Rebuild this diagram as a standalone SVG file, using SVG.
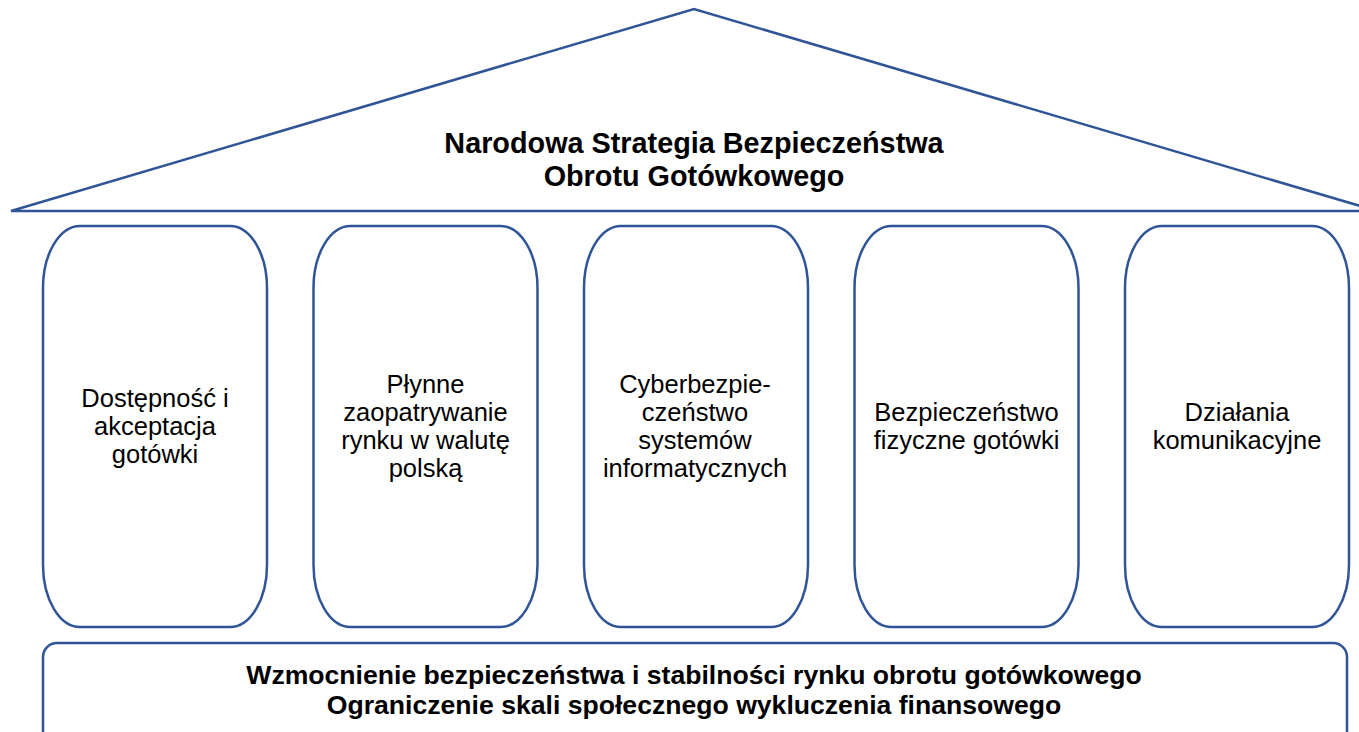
<svg xmlns="http://www.w3.org/2000/svg" width="1359" height="732" viewBox="0 0 1359 732">
<style>
.s{fill:#fff;stroke:#2F5597;stroke-width:2.5}
.t{font-family:"Liberation Sans",Arial,sans-serif;font-size:25.5px;fill:#000;text-anchor:middle}
.b{font-family:"Liberation Sans",Arial,sans-serif;font-weight:bold;fill:#000;text-anchor:middle}
.h{font-size:28.8px}
.f{font-size:26.6px}
</style>
<rect width="1359" height="732" fill="#fff"/>
<g id="roof">
<polygon class="s" points="11,211 694,9 1377,211"/>
<text class="b h" x="694" y="153">Narodowa Strategia Bezpieczeństwa</text>
<text class="b h" x="694" y="186">Obrotu Gotówkowego</text>
</g>
<g id="p1">
<rect class="s" x="43" y="226" width="224" height="401" rx="37" ry="62"/>
<text class="t" x="155" y="407">Dostępność i</text>
<text class="t" x="155" y="435">akceptacja</text>
<text class="t" x="155" y="463">gotówki</text>
</g>
<g id="p2">
<rect class="s" x="313.5" y="226" width="224" height="401" rx="37" ry="62"/>
<text class="t" x="425.5" y="393">Płynne</text>
<text class="t" x="425.5" y="421">zaopatrywanie</text>
<text class="t" x="425.5" y="449">rynku w walutę</text>
<text class="t" x="425.5" y="477">polską</text>
</g>
<g id="p3">
<rect class="s" x="584" y="226" width="224" height="401" rx="37" ry="62"/>
<text class="t" x="695" y="393">Cyberbezpie-</text>
<text class="t" x="695" y="421">czeństwo</text>
<text class="t" x="695" y="449">systemów</text>
<text class="t" x="695" y="477">informatycznych</text>
</g>
<g id="p4">
<rect class="s" x="854.5" y="226" width="224" height="401" rx="37" ry="62"/>
<text class="t" x="966.5" y="421">Bezpieczeństwo</text>
<text class="t" x="966.5" y="449">fizyczne gotówki</text>
</g>
<g id="p5">
<rect class="s" x="1125" y="226" width="224" height="401" rx="37" ry="62"/>
<text class="t" x="1237" y="421">Działania</text>
<text class="t" x="1237" y="449">komunikacyjne</text>
</g>
<g id="base">
<rect class="s" x="43" y="643" width="1304" height="110" rx="14" ry="14"/>
<text class="b f" x="694" y="684">Wzmocnienie bezpieczeństwa i stabilności rynku obrotu gotówkowego</text>
<text class="b f" x="694" y="714">Ograniczenie skali społecznego wykluczenia finansowego</text>
</g>
<g id="connectors"></g>
</svg>
